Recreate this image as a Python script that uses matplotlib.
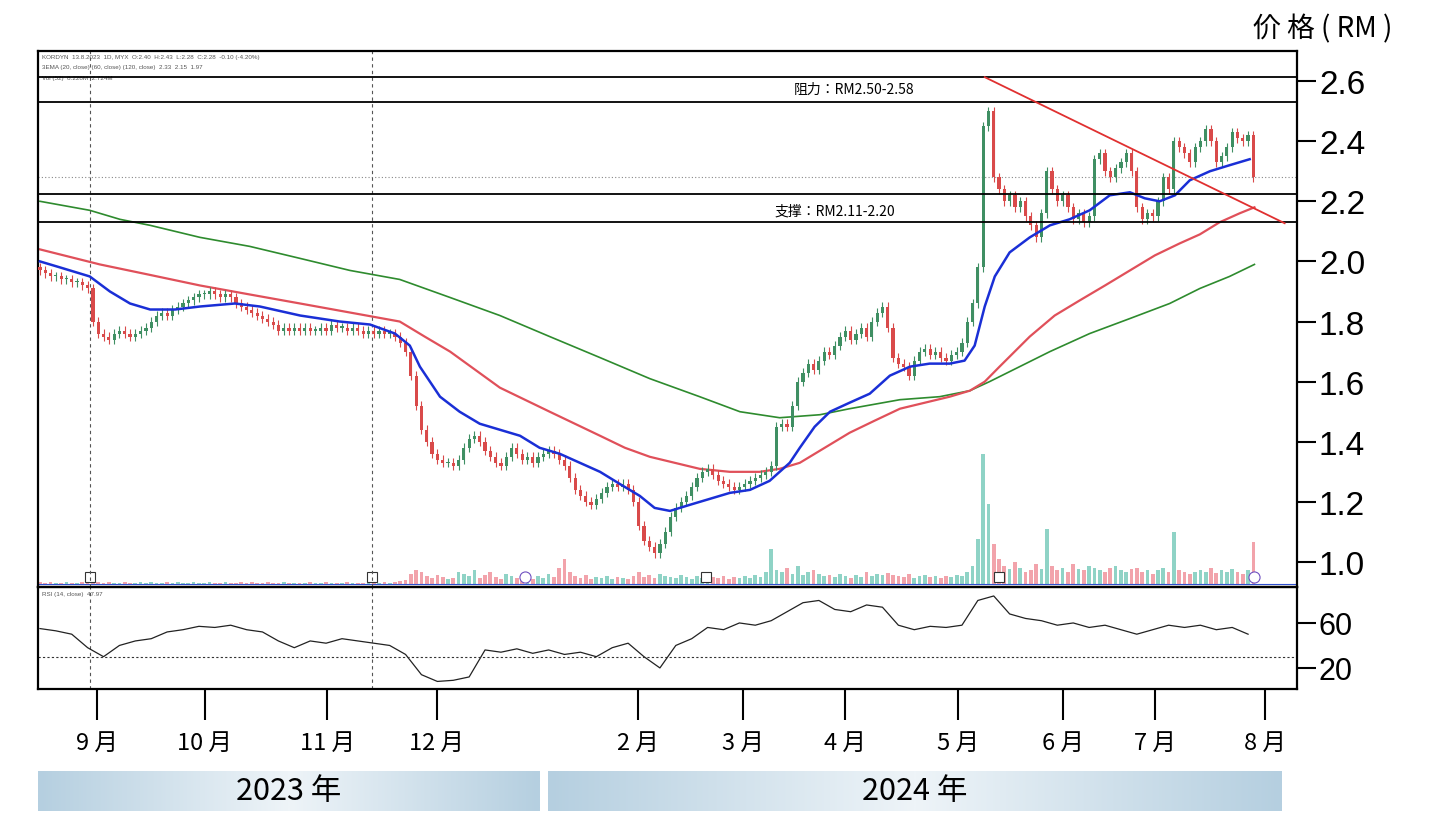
import numpy as np
import matplotlib
matplotlib.use("Agg")
import matplotlib.pyplot as plt

CJK = "Noto Sans CJK JP"
plt.rcParams["font.family"] = ["Liberation Sans", CJK]

# daily closes, one per trading day (Aug 2023 - Jul 2024)
closes = [
    1.97, 1.96, 1.95, 1.95, 1.94, 1.94, 1.93, 1.93, 1.92, 1.91,
    1.80, 1.76, 1.75, 1.74, 1.76, 1.77, 1.76, 1.75, 1.76, 1.77,
    1.78, 1.80, 1.82, 1.83, 1.82, 1.84, 1.85, 1.86, 1.87, 1.88,
    1.89, 1.89, 1.90, 1.89, 1.88, 1.89, 1.88, 1.86, 1.85, 1.84,
    1.83, 1.82, 1.81, 1.80, 1.79, 1.77, 1.78, 1.77, 1.78, 1.77,
    1.78, 1.77, 1.77, 1.78, 1.77, 1.79, 1.78, 1.78, 1.77, 1.78,
    1.77, 1.76, 1.77, 1.76, 1.77, 1.76, 1.76, 1.75, 1.73, 1.70,
    1.62, 1.52, 1.44, 1.40, 1.36, 1.34, 1.33, 1.33, 1.32, 1.34,
    1.38, 1.41, 1.42, 1.40, 1.37, 1.35, 1.33, 1.32, 1.35, 1.38,
    1.36, 1.34, 1.35, 1.33, 1.35, 1.36, 1.37, 1.36, 1.34, 1.32,
    1.28, 1.24, 1.22, 1.20, 1.19, 1.21, 1.23, 1.25, 1.26, 1.25,
    1.26, 1.24, 1.20, 1.12, 1.07, 1.05, 1.03, 1.06, 1.10, 1.15,
    1.18, 1.20, 1.22, 1.25, 1.28, 1.30, 1.31, 1.29, 1.27, 1.26,
    1.25, 1.24, 1.25, 1.26, 1.27, 1.28, 1.29, 1.30, 1.32, 1.45,
    1.46, 1.45, 1.52, 1.60, 1.63, 1.66, 1.64, 1.67, 1.70, 1.69,
    1.72, 1.75, 1.77, 1.74, 1.76, 1.78, 1.75, 1.80, 1.83, 1.85,
    1.78, 1.68, 1.66, 1.65, 1.62, 1.67, 1.70, 1.71, 1.69, 1.70,
    1.68, 1.67, 1.69, 1.70, 1.73, 1.80, 1.86, 1.98, 2.45, 2.50,
    2.28, 2.24, 2.20, 2.22, 2.18, 2.20, 2.15, 2.12, 2.08, 2.16,
    2.30, 2.24, 2.20, 2.22, 2.18, 2.14, 2.16, 2.13, 2.15, 2.34,
    2.36, 2.30, 2.28, 2.31, 2.33, 2.36, 2.30, 2.18, 2.14, 2.16,
    2.15, 2.20, 2.28, 2.24, 2.40, 2.38, 2.36, 2.33, 2.38, 2.40,
    2.44, 2.40, 2.33, 2.35, 2.38, 2.43, 2.41, 2.40, 2.42, 2.28,
]

volumes = [
    2, 1, 2, 1, 1, 2, 1, 1, 2, 1,
    3, 2, 1, 2, 1, 1, 2, 1, 1, 2,
    1, 2, 1, 1, 2, 1, 2, 1, 1, 2,
    1, 1, 2, 1, 1, 2, 1, 1, 2, 1,
    2, 1, 1, 2, 1, 1, 2, 1, 1, 1,
    1, 2, 1, 1, 2, 1, 1, 1, 2, 1,
    1, 1, 2, 1, 1, 2, 1, 2, 3, 4,
    10, 14, 12, 8, 6, 9, 7, 5, 6, 12,
    10, 8, 14, 6, 9, 12, 7, 5, 10, 8,
    6, 9, 7, 5, 8, 6, 10, 7, 16, 25,
    12, 8, 6, 9, 5, 7, 6, 8, 5, 7,
    6, 5, 8, 12, 7, 9, 6, 10, 8, 7,
    6, 9, 7, 5, 8, 6, 5, 7, 6, 8,
    5, 7, 6, 8, 6, 9, 7, 12, 35, 14,
    12, 16, 10, 18, 9, 12, 14, 10, 8, 9,
    7, 10, 8, 6, 9, 7, 12, 8, 10, 9,
    11, 9, 8, 7, 10, 6, 8, 9, 7, 8,
    6, 8, 7, 9, 8, 12, 18, 45, 130, 80,
    40, 25, 18, 15, 22, 16, 12, 14, 20, 15,
    55, 18, 14, 16, 12, 20, 15, 14, 18, 16,
    14, 12, 16, 18, 14, 12, 15, 16, 12, 14,
    10, 14, 16, 12, 52, 14, 12, 10, 12, 14,
    12, 16, 11, 14, 12, 15, 12, 10, 14, 42,
]

# moving averages (x = trading-day index)
ema20_x = [0, 3.8, 9.4, 13.2, 17, 20.8, 25.5, 30.2, 36.8, 41.5, 49.1, 56.6, 62.3, 67, 69.8, 71.7,
           75.5, 79.2, 83, 86.8, 90.6, 94.3, 98.1, 101.9, 105.7, 109.4, 113.2, 116, 118.9, 122.6,
           126.4, 130.2, 134, 137.7, 141.5, 143.4, 146.2, 149.1, 152.8, 156.6, 160.4, 164.2, 167.9,
           171.7, 174.5, 176.4, 178.3, 180.2, 183, 186.8, 190.6, 194.3, 198.1, 201.9, 205.7, 208.5,
           211.3, 214.2, 217, 220.8, 224.5, 228.3]
ema20_y = [2.00, 1.98, 1.95, 1.90, 1.86, 1.84, 1.84, 1.85, 1.86, 1.85, 1.82, 1.80, 1.79, 1.76, 1.72, 1.65,
           1.55, 1.50, 1.46, 1.44, 1.42, 1.38, 1.36, 1.33, 1.30, 1.26, 1.22, 1.18, 1.17, 1.19,
           1.21, 1.23, 1.24, 1.27, 1.33, 1.38, 1.45, 1.50, 1.53, 1.56, 1.62, 1.65, 1.66,
           1.66, 1.67, 1.72, 1.85, 1.95, 2.03, 2.08, 2.12, 2.14, 2.17, 2.22, 2.23, 2.21,
           2.20, 2.22, 2.27, 2.30, 2.32, 2.34]
ema60_x = [0, 11.3, 20.8, 30.2, 39.6, 49.1, 58.5, 67.9, 72.6, 77.4, 82.1, 86.8, 96.2, 105.7, 110.4,
           115.1, 119.8, 124.5, 130.2, 135.8, 139.6, 143.4, 148.1, 152.8, 157.5, 162.3, 167, 171.7,
           175.5, 178.3, 181.1, 186.8, 191.5, 196.2, 201, 205.7, 210.4, 215.1, 218.9, 222.6, 226.4, 229.2]
ema60_y = [2.04, 1.99, 1.955, 1.92, 1.89, 1.86, 1.83, 1.80, 1.75, 1.70, 1.64, 1.58, 1.50, 1.42, 1.38,
           1.35, 1.33, 1.31, 1.30, 1.30, 1.31, 1.33, 1.38, 1.43, 1.47, 1.51, 1.53, 1.55,
           1.57, 1.60, 1.65, 1.75, 1.82, 1.87, 1.92, 1.97, 2.02, 2.06, 2.09, 2.13, 2.16, 2.18]
ema120_x = [0, 9.4, 15.1, 20.8, 30.2, 39.6, 49.1, 58.5, 67.9, 77.4, 86.8, 96.2, 105.7, 115.1, 124.5,
            132.1, 139.6, 147.2, 152.8, 162.3, 169.8, 175.5, 179.2, 184.9, 190.6, 198.1, 205.7, 213.2,
            218.9, 224.5, 229.2]
ema120_y = [2.20, 2.17, 2.14, 2.12, 2.08, 2.05, 2.01, 1.97, 1.94, 1.88, 1.82, 1.75, 1.68, 1.61, 1.55,
            1.50, 1.48, 1.49, 1.51, 1.54, 1.55, 1.57, 1.60, 1.65, 1.70, 1.76, 1.81, 1.86,
            1.91, 1.95, 1.99]

rsi_x = list(range(0, 229, 3))
rsi_y = [55, 53, 50, 38, 30, 40, 44, 46, 52, 54, 57, 56, 58, 54, 52, 44, 38, 44, 42, 46,
         44, 42, 40, 32, 14, 8, 9, 12, 36, 34, 37, 33, 36, 32, 34, 30, 38, 42, 30, 20,
         40, 46, 56, 54, 60, 58, 62, 70, 78, 80, 72, 70, 76, 74, 58, 54, 57, 56, 58, 80,
         84, 68, 64, 62, 58, 60, 56, 58, 54, 50, 54, 58, 56, 58, 54, 56, 50]

month_pos = [10.8, 31.1, 54.2, 74.9, 112.8, 132.6, 151.9, 173.2, 193.0, 210.4, 231.1]
month_labels = ["9 月", "10 月", "11 月", "12 月", "2 月", "3 月", "4 月", "5 月", "6 月", "7 月", "8 月"]

UP, DOWN = "#3f8f63", "#d94a4a"
XL = (-0.377, 237.17)

fig = plt.figure(figsize=(14.32, 8.28), dpi=100)
ax = fig.add_axes([0.0265, 0.2899, 0.879, 0.6473])
axr = fig.add_axes([0.0265, 0.1667, 0.879, 0.1232])

n = len(closes)
idx = np.arange(n)
opens = [closes[0] + 0.01] + closes[:-1]
for i in idx:
    o, c = opens[i], closes[i]
    col = UP if c >= o else DOWN
    hi, lo = max(o, c) + 0.015, min(o, c) - 0.015
    ax.vlines(i, lo, hi, color=col, lw=0.8, zorder=3)
    ax.bar(i, max(abs(c - o), 0.004), bottom=min(o, c), width=0.6, color=col, zorder=3)

ax.plot(ema120_x, ema120_y, color="#2e8b2e", lw=1.2, zorder=2)
ax.plot(ema60_x, ema60_y, color="#e0505a", lw=1.6, zorder=2)
ax.plot(ema20_x, ema20_y, color="#1a2fd6", lw=1.8, zorder=4)

# volume
axv = ax.twinx()
vcol = ["#8fd3c6" if closes[i] >= opens[i] else "#f2a3ab" for i in idx]
axv.bar(idx, volumes, width=0.7, color=vcol, zorder=1)
axv.set_ylim(-3, 533)
axv.axhline(0, color="#3050d0", lw=0.8)
axv.set_yticks([])
for s in axv.spines.values():
    s.set_visible(False)
for xm in [9.4, 62.6, 125.7, 181]:
    axv.plot(xm, 7, marker="s", ms=7, mfc="white", mec="#333333", mew=0.8)
for xm in [91.5, 229.2]:
    axv.plot(xm, 7, marker="o", ms=8, mfc="white", mec="#7050c0", mew=0.8)

# support / resistance and trendline
for lvl in [2.613, 2.53, 2.223, 2.13]:
    ax.axhline(lvl, color="black", lw=1.3, zorder=5)
ax.axhline(2.28, color="#888888", lw=0.8, ls=(0, (1, 2)))
ax.plot([178.3, 234.9], [2.613, 2.127], color="#e03030", lw=1.3, zorder=5)
for xv in [9.4, 62.6]:
    ax.axvline(xv, color="#555555", lw=0.8, ls=(0, (3, 3)))
    axr.axvline(xv, color="#555555", lw=0.8, ls=(0, (3, 3)))
ax.text(153.7, 2.575, "阻力：RM2.50-2.58", fontsize=10, family=CJK, ha="center", va="center")
ax.text(150, 2.17, "支撑：RM2.11-2.20", fontsize=10, family=CJK, ha="center", va="center")
ax.text(0.003, 0.995, "KORDYN  13.8.2023  1D, MYX  O:2.40  H:2.43  L:2.28  C:2.28  -0.10 (-4.20%)",
        transform=ax.transAxes, fontsize=4.5, color="#555555", va="top")
ax.text(0.003, 0.975, "3EMA (20, close) (60, close) (120, close)  2.33  2.15  1.97",
        transform=ax.transAxes, fontsize=4.5, color="#555555", va="top")
ax.text(0.003, 0.955, "Vol (52)  8.228M  2.724M", transform=ax.transAxes, fontsize=4.5, color="#555555", va="top")

ax.set_xlim(*XL)
ax.set_ylim(0.917, 2.70)
ax.set_xticks([])
ax.yaxis.tick_right()
ax.set_yticks([1.0, 1.2, 1.4, 1.6, 1.8, 2.0, 2.2, 2.4, 2.6])
ax.set_yticklabels(["1.0", "1.2", "1.4", "1.6", "1.8", "2.0", "2.2", "2.4", "2.6"])
ax.tick_params(axis="y", length=14, width=1.5, labelsize=24, pad=2)
for s in ax.spines.values():
    s.set_linewidth(1.6)
ax.set_zorder(axv.get_zorder() + 1)
ax.patch.set_visible(False)

# RSI panel
axr.plot(rsi_x, rsi_y, color="#222222", lw=0.9)
axr.axhline(30, color="#333333", lw=0.8, ls=(0, (2, 2)))
axr.text(0.003, 0.96, "RSI (14, close)  47.97", transform=axr.transAxes, fontsize=4.5, color="#555555", va="top")
axr.set_xlim(*XL)
axr.set_ylim(1.3, 92)
axr.yaxis.tick_right()
axr.set_yticks([20, 60])
axr.tick_params(axis="y", length=14, width=1.5, labelsize=22, pad=2)
axr.set_xticks(month_pos)
axr.set_xticklabels(month_labels, family=CJK, fontsize=17)
axr.tick_params(axis="x", length=22, width=1.5, pad=8)
for s in axr.spines.values():
    s.set_linewidth(1.6)

fig.text(0.972, 0.965, "价 格 ( RM )", family=CJK, fontsize=20, ha="right", va="center")

# year banners
grad = np.linspace(0, 1, 256)
grad = np.minimum(grad, grad[::-1]) * 2
grad = grad.reshape(1, -1)
cmap = matplotlib.colors.LinearSegmentedColormap.from_list("yr", ["#b5cfe0", "#eef4f8"])
for x0, x1, lab in [(38, 540, "2023 年"), (548, 1282, "2024 年")]:
    bx = fig.add_axes([x0 / 1432, 1 - 812 / 828, (x1 - x0) / 1432, 40 / 828])
    bx.imshow(grad, aspect="auto", cmap=cmap, extent=[0, 1, 0, 1])
    bx.text(0.5, 0.5, lab, family=CJK, fontsize=22, ha="center", va="center")
    bx.axis("off")

fig.savefig("out.png", dpi=100)
